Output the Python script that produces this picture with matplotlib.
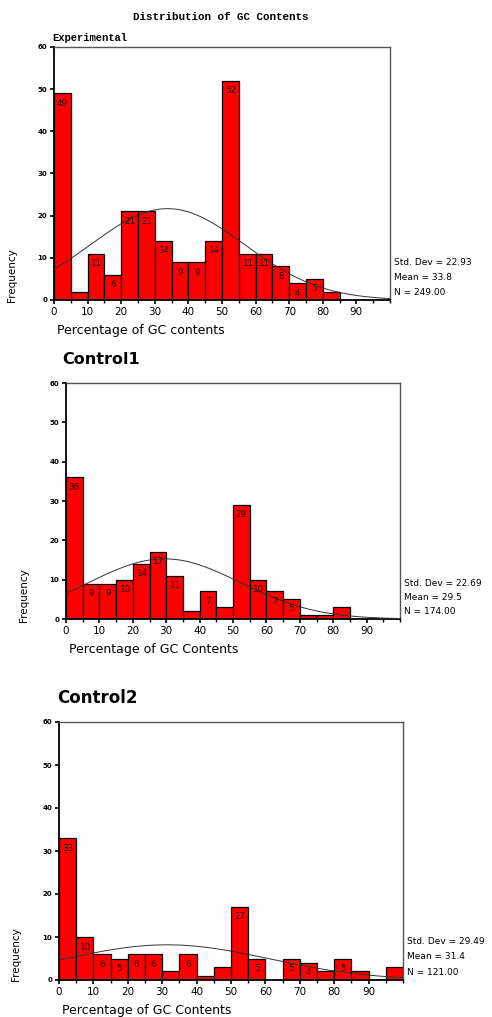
import numpy as np
import matplotlib
matplotlib.use("Agg")
import matplotlib.pyplot as plt

# bin counts (bins of width 5, starting at 0)
bin_width = 5
exp_counts = [49, 2, 11, 6, 21, 21, 14, 9, 9, 14, 52, 11, 11, 8, 4, 5, 2]
ctrl1_counts = [36, 9, 9, 10, 14, 17, 11, 2, 7, 3, 29, 10, 7, 5, 1, 1, 3]
ctrl2_counts = [33, 10, 6, 5, 6, 6, 2, 6, 1, 3, 17, 5, 0, 5, 4, 2, 5, 2, 0, 3]

# (std dev, mean, N) as printed beside each panel
exp_stats = (22.93, 33.8, 249.00)
ctrl1_stats = (22.69, 29.5, 174.00)
ctrl2_stats = (29.49, 31.4, 121.00)

x_ticks = [0, 10, 20, 30, 40, 50, 60, 70, 80, 90]
y_ticks = [0, 10, 20, 30, 40, 50, 60]

W, H = 492, 1017
fig = plt.figure(figsize=(W / 100, H / 100), dpi=100)
fig.patch.set_facecolor("white")


def px_axes(left, top, right, bottom):
    return fig.add_axes([left / W, 1 - bottom / H, (right - left) / W, (bottom - top) / H])


def draw_hist(ax, counts, stats, xlabel, labeled_min=4):
    sd, mean, n = stats
    edges = np.arange(len(counts)) * bin_width
    ax.bar(edges, counts, width=bin_width, align="edge",
           color="#ff0000", edgecolor="black", linewidth=0.9, zorder=2)
    for x0, c in zip(edges, counts):
        if c >= labeled_min:
            ax.text(x0 + bin_width / 2, c - 1.3, str(c), ha="center", va="top",
                    fontsize=6.3, color="#1a0000", zorder=4)
    # fitted normal curve, scaled to counts
    xs = np.linspace(0, 100, 300)
    curve = n * bin_width * np.exp(-0.5 * ((xs - mean) / sd) ** 2) / (sd * np.sqrt(2 * np.pi))
    ax.plot(xs, curve, color="#333333", linewidth=0.7, zorder=3)

    ax.set_xlim(0, 100)
    ax.set_ylim(0, 60)
    ax.set_xticks(x_ticks)
    ax.set_xticks(np.arange(0, 101, 5), minor=True)
    ax.set_yticks(y_ticks)
    ax.tick_params(axis="both", which="major", labelsize=7.5, length=3, width=1.2, pad=2)
    ax.tick_params(axis="x", which="minor", length=2, width=1)
    for lab in ax.get_yticklabels():
        lab.set_fontsize(5)
        lab.set_fontweight("bold")
    for side in ["top", "right"]:
        ax.spines[side].set_color("#555555")
        ax.spines[side].set_linewidth(1)
    ax.spines["left"].set_linewidth(1.3)
    ax.spines["bottom"].set_linewidth(1.3)
    ax.set_ylabel("Frequency", fontsize=7.5)
    ax.yaxis.set_label_coords(-0.11, 0.1)
    ax.set_xlabel(xlabel, fontsize=9, labelpad=5, loc="left")
    ax.xaxis.label.set_x(0.01)

    stats_txt = ["Std. Dev = %.2f" % sd, "Mean = %.1f" % mean, "N = %.2f" % n]
    for i, t in enumerate(stats_txt):
        ax.text(1.012, 0.15 - i * 0.06, t, transform=ax.transAxes,
                fontsize=6.5, ha="left", va="center")


# Experimental
ax1 = px_axes(54, 47, 390, 300)
draw_hist(ax1, exp_counts, exp_stats, "Percentage of GC contents")
fig.text(221 / W, 1 - 17 / H, "Distribution of GC Contents", ha="center", va="center",
         fontsize=7.8, family="Liberation Mono", fontweight="bold")
fig.text(52 / W, 1 - 38 / H, "Experimental", ha="left", va="center",
         fontsize=7.6, family="Liberation Mono", fontweight="bold")

# Control1
ax2 = px_axes(66, 383, 400, 619)
draw_hist(ax2, ctrl1_counts, ctrl1_stats, "Percentage of GC Contents")
fig.text(62 / W, 1 - 360 / H, "Control1", ha="left", va="center",
         fontsize=11.5, fontweight="bold")

# Control2
ax3 = px_axes(59, 722, 403, 980)
draw_hist(ax3, ctrl2_counts, ctrl2_stats, "Percentage of GC Contents")
fig.text(57 / W, 1 - 698 / H, "Control2", ha="left", va="center",
         fontsize=12, fontweight="bold")

fig.savefig("out.png", dpi=100)
